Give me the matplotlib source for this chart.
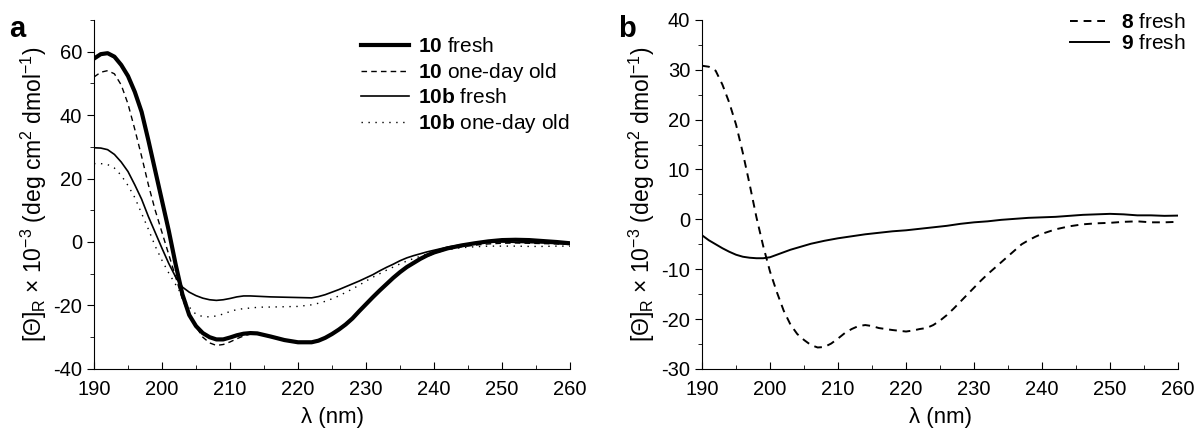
import matplotlib
matplotlib.use("Agg")
import matplotlib.pyplot as plt
from matplotlib.ticker import MultipleLocator

plt.rcParams["font.family"] = ["Liberation Sans", "DejaVu Sans"]
plt.rcParams["mathtext.fontset"] = "custom"
plt.rcParams["mathtext.rm"] = "Liberation Sans"
plt.rcParams["mathtext.bf"] = "Liberation Sans:bold"
plt.rcParams["axes.unicode_minus"] = False

# panel a: compound 10 / 10b, fresh and one-day old
wl_a = [190, 191, 192, 193, 194, 195, 196, 197, 198, 199, 200, 201, 202, 203,
        204, 205, 206, 207, 208, 209, 210, 211, 212, 213, 214, 215, 216, 218,
        220, 222, 223, 224, 225, 226, 227, 228, 229, 230, 231, 232, 233, 234,
        235, 236, 237, 238, 239, 240, 242, 244, 246, 248, 250, 252, 254, 256,
        258, 260]
theta_10_fresh = [57.8, 59.2, 59.5, 58.4, 55.8, 52.3, 47.3, 41.0, 32.0, 22.5,
                  13.0, 3.5, -7.0, -16.5, -23.0, -26.5, -28.7, -30.0, -30.7,
                  -30.7, -30.1, -29.4, -28.9, -28.7, -28.8, -29.3, -29.8,
                  -30.9, -31.6, -31.6, -31.1, -30.2, -29.0, -27.6, -26.0,
                  -24.1, -21.8, -19.6, -17.4, -15.3, -13.3, -11.3, -9.5, -7.9,
                  -6.6, -5.3, -4.2, -3.3, -2.0, -1.1, -0.4, 0.2, 0.6, 0.7, 0.6,
                  0.3, 0.0, -0.4]
theta_10_old = [52.0, 53.5, 54.0, 53.0, 49.5, 43.5, 35.5, 27.0, 18.0, 10.0,
                3.0, -4.0, -11.0, -18.0, -23.0, -26.7, -30.0, -31.8, -32.6,
                -32.3, -31.5, -30.5, -29.6, -29.0, -28.9, -29.2, -29.6, -30.7,
                -31.5, -31.6, -31.1, -30.3, -29.1, -27.8, -26.1, -24.3, -22.0,
                -19.8, -17.6, -15.4, -13.4, -11.4, -9.7, -8.1, -6.7, -5.5,
                -4.5, -3.6, -2.3, -1.5, -1.0, -0.6, -0.4, -0.3, -0.4, -0.5,
                -0.6, -0.8]
theta_10b_fresh = [29.7, 29.6, 29.1, 27.6, 25.2, 22.2, 18.0, 13.5, 8.0, 3.0,
                   -2.0, -6.8, -11.0, -14.2, -15.8, -16.9, -17.7, -18.2, -18.4,
                   -18.2, -17.8, -17.3, -17.0, -17.0, -17.1, -17.2, -17.3,
                   -17.4, -17.5, -17.6, -17.2, -16.6, -15.8, -15.0, -14.1,
                   -13.2, -12.3, -11.3, -10.3, -9.1, -8.0, -7.0, -5.9, -5.0,
                   -4.3, -3.7, -3.1, -2.6, -1.6, -0.9, -0.4, -0.1, 0.0, -0.1,
                   -0.2, -0.3, -0.5, -0.7]
theta_10b_old = [24.7, 24.7, 24.4, 23.3, 21.0, 17.8, 14.0, 9.0, 4.0, -1.3,
                 -5.8, -9.8, -13.4, -17.0, -20.5, -22.8, -23.5, -23.6, -23.3,
                 -22.7, -21.9, -21.3, -21.0, -20.8, -20.6, -20.5, -20.5, -20.4,
                 -20.3, -19.8, -19.3, -18.7, -17.9, -17.0, -15.9, -14.8, -13.6,
                 -12.3, -11.1, -10.0, -8.9, -7.9, -6.9, -6.0, -5.2, -4.5, -3.8,
                 -3.3, -2.4, -1.8, -1.5, -1.3, -1.3, -1.3, -1.4, -1.4, -1.3,
                 -1.3]

# panel b: compounds 8 and 9, fresh
wl_b = [190, 191, 192, 193, 194, 195, 196, 197, 198, 199, 200, 201, 202, 203,
        204, 205, 206, 207, 208, 209, 210, 211, 212, 213, 214, 215, 216, 218,
        220, 221, 222, 223, 224, 225, 226, 227, 228, 229, 230, 231, 232, 233,
        234, 235, 236, 237, 238, 239, 240, 242, 244, 246, 248, 250, 252, 254,
        256, 258, 260]
theta_8_fresh = [30.8, 30.6, 29.8, 27.0, 23.4, 19.0, 13.3, 7.0, 0.4, -5.4,
                 -10.5, -14.6, -18.3, -21.1, -23.0, -24.2, -25.2, -25.7, -25.6,
                 -24.9, -23.9, -22.8, -22.0, -21.4, -21.2, -21.4, -21.8, -22.2,
                 -22.5, -22.3, -22.0, -21.8, -21.2, -20.3, -19.2, -17.9, -16.5,
                 -15.1, -13.7, -12.3, -11.0, -9.8, -8.6, -7.4, -6.2, -5.0,
                 -4.2, -3.5, -2.9, -2.0, -1.4, -1.0, -0.8, -0.7, -0.5, -0.4,
                 -0.6, -0.6, -0.5]
theta_9_fresh = [-3.2, -4.2, -5.0, -5.8, -6.5, -7.1, -7.5, -7.7, -7.8, -7.8,
                 -7.6, -7.1, -6.6, -6.1, -5.7, -5.3, -4.9, -4.6, -4.3, -4.05,
                 -3.8, -3.6, -3.4, -3.2, -3.0, -2.85, -2.7, -2.4, -2.2, -2.05,
                 -1.9, -1.75, -1.6, -1.45, -1.3, -1.1, -0.9, -0.75, -0.6, -0.5,
                 -0.4, -0.25, -0.1, 0.0, 0.1, 0.2, 0.3, 0.35, 0.4, 0.5, 0.7,
                 0.9, 1.0, 1.1, 1.0, 0.8, 0.8, 0.7, 0.75]

ylabel = r"[Θ]$_\mathrm{R}$ × 10$^{-3}$ (deg cm$^2$ dmol$^{-1}$)"

fig = plt.figure(figsize=(11.96, 4.32), dpi=100)
ax_a = fig.add_axes([0.0786, 0.146, 0.398, 0.808])
ax_b = fig.add_axes([0.587, 0.146, 0.398, 0.808])

ax_a.plot(wl_a, theta_10_fresh, color="black", lw=3.0,
          label=r"$\mathbf{10}$ fresh")
ax_a.plot(wl_a, theta_10_old, color="black", lw=1.0, ls=(0, (4, 3)),
          label=r"$\mathbf{10}$ one-day old")
ax_a.plot(wl_a, theta_10b_fresh, color="black", lw=1.2,
          label=r"$\mathbf{10b}$ fresh")
ax_a.plot(wl_a, theta_10b_old, color="black", lw=1.0, ls=(0, (1, 4)),
          label=r"$\mathbf{10b}$ one-day old")

ax_b.plot(wl_b, theta_8_fresh, color="black", lw=1.4, ls=(0, (4, 3)),
          label=r"$\mathbf{8}$ fresh")
ax_b.plot(wl_b, theta_9_fresh, color="black", lw=1.4,
          label=r"$\mathbf{9}$ fresh")

ax_a.set_ylim(-40, 70)
ax_a.set_yticks([-40, -20, 0, 20, 40, 60])
ax_a.yaxis.set_minor_locator(MultipleLocator(10))
ax_b.set_ylim(-30, 40)
ax_b.set_yticks(range(-30, 41, 10))
ax_b.yaxis.set_minor_locator(MultipleLocator(5))

for ax in (ax_a, ax_b):
    ax.set_xlim(190, 260)
    ax.set_xticks(range(190, 261, 10))
    ax.xaxis.set_minor_locator(MultipleLocator(5))
    ax.spines["top"].set_visible(False)
    ax.spines["right"].set_visible(False)
    ax.tick_params(axis="x", which="both", direction="in", labelsize=14.5, pad=8)
    ax.tick_params(axis="y", which="both", direction="out", labelsize=14.5)
    ax.tick_params(which="major", length=5)
    ax.tick_params(which="minor", length=3)
    ax.set_xlabel("λ (nm)", fontsize=16, labelpad=6)
    ax.set_ylabel(ylabel, fontsize=16.5, labelpad=3)

ax_a.legend(loc="upper right", bbox_to_anchor=(1.0, 0.95), frameon=False,
            fontsize=15, handlelength=2.3, handletextpad=0.45,
            labelspacing=0.22, borderpad=0, borderaxespad=0)
ax_b.legend(loc="upper right", bbox_to_anchor=(1.015, 1.02), frameon=False,
            fontsize=15, handlelength=1.9, handletextpad=0.55,
            labelspacing=0.12, borderpad=0, borderaxespad=0)

fig.text(0.008, 0.915, "a", fontsize=21, fontweight="bold")
fig.text(0.517, 0.915, "b", fontsize=21, fontweight="bold")

fig.savefig("out.png", dpi=100)
